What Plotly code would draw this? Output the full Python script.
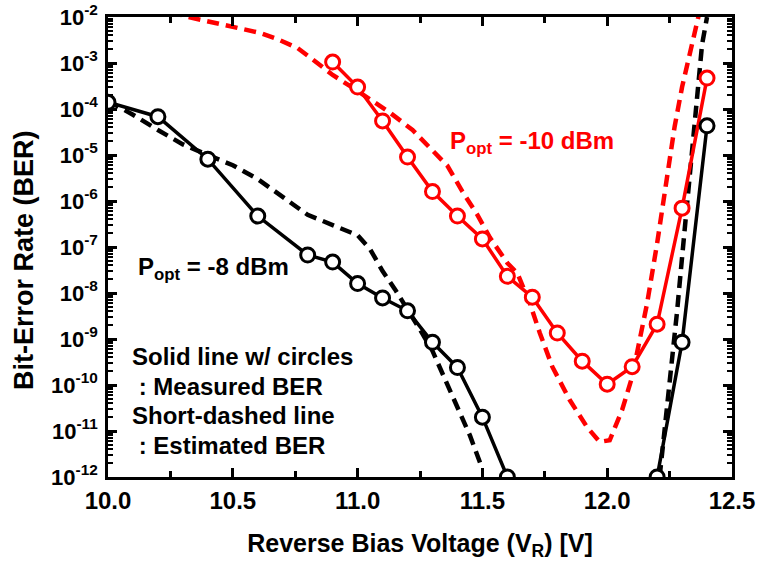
import plotly.graph_objects as go

# ---------------- data ----------------
meas_x_8 = [10.0, 10.2, 10.4, 10.6, 10.8, 10.9, 11.0, 11.1, 11.2, 11.3, 11.4, 11.5, 11.6,
            None, 12.2, 12.3, 12.4]
meas_y_8 = [1.4e-4, 6.8e-5, 8.1e-6, 4.7e-7, 6.7e-8, 4.7e-8, 1.6e-8, 7.8e-9, 4.1e-9, 8.5e-10,
            2.4e-10, 2.0e-11, 1.0e-12, None, 1.0e-12, 8.5e-10, 4.3e-5]

est_x_8 = [10.0, 10.1, 10.2, 10.3, 10.4, 10.5, 10.6, 10.7, 10.8, 10.9, 11.0, 11.05, 11.1,
           11.15, 11.2, 11.25, 11.3, 11.35, 11.4, 11.45, 11.5,
           None, 12.21, 12.24, 12.26, 12.28, 12.30, 12.32, 12.34, 12.36, 12.38, 12.40]
est_y_8 = [1.5e-4, 7.5e-5, 3.5e-5, 1.7e-5, 1.0e-5, 6.0e-6, 3.0e-6, 1.2e-6, 5.0e-7, 3.0e-7,
           1.8e-7, 9.0e-8, 3.0e-8, 1.2e-8, 4.5e-9, 1.6e-9, 5.5e-10, 1.3e-10, 3.0e-11, 8.0e-12,
           1.5e-12,
           None, 1.0e-12, 3.0e-11, 3.5e-10, 4.0e-9, 6.0e-8, 8.0e-7, 1.5e-5, 2.5e-4, 2.5e-3, 1.0e-2]

meas_x_10 = [10.9, 11.0, 11.1, 11.2, 11.3, 11.4, 11.5, 11.6, 11.7, 11.8, 11.9, 12.0, 12.1,
             12.2, 12.3, 12.4]
meas_y_10 = [1.05e-3, 3.0e-4, 5.5e-5, 9.0e-6, 1.6e-6, 4.7e-7, 1.5e-7, 2.3e-8, 8.1e-9, 1.35e-9,
             3.3e-10, 1.04e-10, 2.5e-10, 2.1e-9, 7.0e-7, 4.7e-4]

est_x_10 = [10.25, 10.32, 10.38, 10.46, 10.53, 10.61, 10.68, 10.76, 10.82, 10.90, 10.98, 11.13,
            11.22, 11.29, 11.36, 11.42, 11.48, 11.53, 11.60, 11.64, 11.69, 11.73, 11.78, 11.85,
            11.92, 11.97, 12.01, 12.06, 12.10, 12.13, 12.16, 12.20, 12.24, 12.27, 12.30, 12.34,
            12.36, 12.37]
est_y_10 = [1.3e-2, 1.0e-2, 8.5e-3, 6.8e-3, 5.8e-3, 4.5e-3, 3.3e-3, 2.1e-3, 1.2e-3, 5.5e-4,
            2.9e-4, 8.3e-5, 3.5e-5, 1.4e-5, 5.8e-6, 1.6e-6, 5.0e-7, 1.6e-7, 4.5e-8, 2.7e-8,
            6.0e-9, 1.35e-9, 2.5e-10, 4.7e-11, 1.2e-11, 5.8e-12, 6.3e-12, 2.9e-11, 1.5e-10,
            9.5e-10, 6.0e-9, 1.2e-7, 3.3e-6, 4.1e-5, 3.0e-4, 2.7e-3, 8.5e-3, 1.3e-2]

x_tickvals = [10.0, 10.5, 11.0, 11.5, 12.0, 12.5]
x_ticktext = ["10.0", "10.5", "11.0", "11.5", "12.0", "12.5"]
y_exponents = [-12, -11, -10, -9, -8, -7, -6, -5, -4, -3, -2]
y_tickvals = [10.0 ** e for e in y_exponents]
y_ticktext = ["10<sup>%d</sup>" % e for e in y_exponents]

BLACK = "#000000"
RED = "#FF0000"
FONT = "Liberation Sans"

fig = go.Figure()

DASH = "12px,7px"
fig.add_trace(go.Scatter(x=est_x_10, y=est_y_10, mode="lines",
                         line=dict(color=RED, width=4.5, dash=DASH), showlegend=False))
fig.add_trace(go.Scatter(x=est_x_8, y=est_y_8, mode="lines",
                         line=dict(color=BLACK, width=4.5, dash=DASH), showlegend=False))
fig.add_trace(go.Scatter(x=meas_x_10, y=meas_y_10, mode="lines+markers",
                         line=dict(color=RED, width=3.5),
                         marker=dict(symbol="circle", size=14, color="white",
                                     line=dict(color=RED, width=3)),
                         showlegend=False))
fig.add_trace(go.Scatter(x=meas_x_8, y=meas_y_8, mode="lines+markers",
                         line=dict(color=BLACK, width=3.5),
                         marker=dict(symbol="circle", size=14, color="white",
                                     line=dict(color=BLACK, width=3)),
                         showlegend=False))

W, H = 757, 566
L, R, T, B = 108, 25, 17, 89
pw, ph = W - L - R, H - T - B


def px(xp):
    return (xp - L) / pw


def py(yp):
    return (H - B - yp) / ph


ann_font = dict(family=FONT, size=24, color=BLACK, weight="bold")
annotations = [
    dict(text="P<sub>opt</sub> = -8 dBm", x=px(136), y=py(268), font=ann_font),
    dict(text="P<sub>opt</sub> = -10 dBm", x=px(448), y=py(142),
         font=dict(family=FONT, size=24, color=RED, weight="bold")),
    dict(text="Solid line w/ circles", x=px(130), y=py(356), font=ann_font),
    dict(text=" : Measured BER", x=px(130), y=py(386), font=ann_font),
    dict(text="Short-dashed line", x=px(130), y=py(415), font=ann_font),
    dict(text=" : Estimated BER", x=px(130), y=py(445), font=ann_font),
]
for a in annotations:
    a.update(xref="paper", yref="paper", xanchor="left", yanchor="middle", showarrow=False)
# y-axis title, placed as in the reference (slightly below the axis centre)
annotations.append(dict(text="Bit-Error Rate (BER)", x=px(24), y=py(260), xref="paper",
                        yref="paper", xanchor="center", yanchor="middle", textangle=-90,
                        showarrow=False,
                        font=dict(family=FONT, size=27, color=BLACK, weight="bold")))

fig.update_layout(
    width=W, height=H,
    margin=dict(l=L, r=R, t=T, b=B),
    paper_bgcolor="white", plot_bgcolor="white",
    font=dict(family=FONT, color=BLACK, weight="bold"),
    annotations=annotations,
)

fig.update_xaxes(
    automargin=False,
    range=[10.0, 12.5], tickmode="array", tickvals=x_tickvals, ticktext=x_ticktext,
    ticks="inside", ticklen=9, tickwidth=2.5, tickcolor=BLACK,
    minor=dict(ticks="inside", ticklen=6, tickwidth=2.5, tickcolor=BLACK, dtick=0.25,
               showgrid=False),
    showline=True, linewidth=2.5, linecolor=BLACK, mirror="allticks",
    showgrid=False, zeroline=False, ticklabelstandoff=0,
    tickfont=dict(family=FONT, size=24, color=BLACK, weight="bold"),
    title=dict(text="Reverse Bias Voltage (V<sub>R</sub>) [V]",
               font=dict(family=FONT, size=25, color=BLACK, weight="bold"), standoff=22),
)
fig.update_yaxes(
    automargin=False,
    type="log", range=[-12, -2], tickmode="array", tickvals=y_tickvals, ticktext=y_ticktext,
    ticks="inside", ticklen=9, tickwidth=2.5, tickcolor=BLACK,
    minor=dict(ticks="inside", ticklen=5, tickwidth=1.5, tickcolor=BLACK, dtick="D1",
               showgrid=False),
    showline=True, linewidth=2.5, linecolor=BLACK, mirror="allticks",
    showgrid=False, zeroline=False, ticklabelstandoff=3,
    tickfont=dict(family=FONT, size=22, color=BLACK, weight="bold"),
)

fig.write_html("out.html", config={"displayModeBar": False},
               post_script="document.body.style.margin='0';")
